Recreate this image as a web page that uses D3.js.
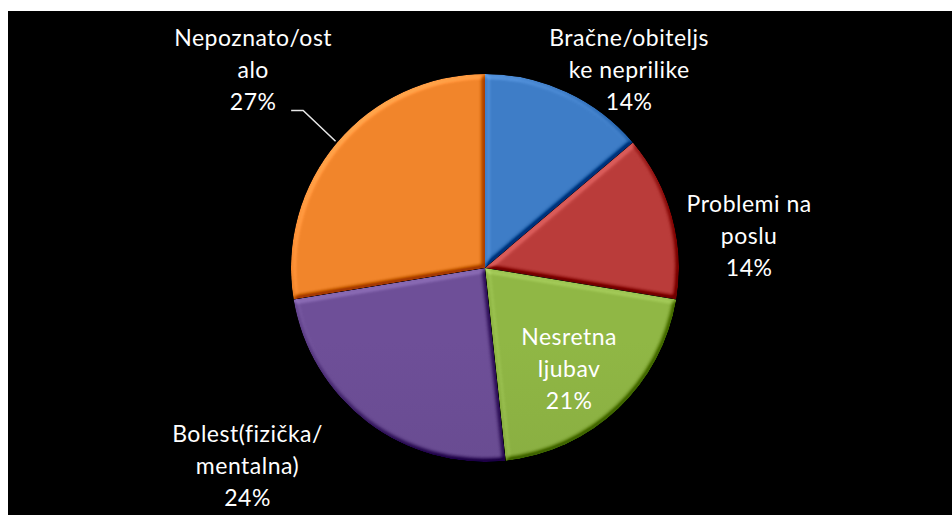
<!DOCTYPE html>
<html>
<head>
<meta charset="utf-8">
<script src="https://cdn.jsdelivr.net/npm/d3@7"></script>
<style>
body { margin: 0; background: #fff; }
svg { display: block; }
</style>
</head>
<body>
<div id="chart"></div>
<script>
// data
var categories    = ["Bračne/obiteljske neprilike", "Problemi na poslu", "Nesretna ljubav", "Bolest(fizička/mentalna)", "Nepoznato/ostalo"];
var labelLines    = [["Bračne/obiteljs", "ke neprilike"], ["Problemi na", "poslu"], ["Nesretna", "ljubav"], ["Bolest(fizička/", "mentalna)"], ["Nepoznato/ost", "alo"]];
var values        = [13.8, 13.8, 20.7, 24.1, 27.6];
var percentLabels = ["14%", "14%", "21%", "24%", "27%"];

var colors = ["#3a74b9", "#ad3836", "#86aa40", "#664a8e", "#e07c28"];

// label placement: angle (deg clockwise from 12 o'clock) and distance from the centre
var labelAngle  = [36.2, 83.2, 140.4, 230, 310.3];
var labelRadius = [244, 266, 132, 310, 304];
var hasLeader   = [false, false, false, false, true];

var width  = 952;
var height = 515;
var cx = 485, cy = 268, radius = 194;
var lineH = 32;

var svg = d3.select("#chart").append("svg").attr("width", width).attr("height", height);

svg.append("rect").attr("x", 8).attr("y", 11).attr("width", width - 8).attr("height", height - 11).attr("fill", "#000");

var defs = svg.append("defs");

var bevel = defs.append("filter").attr("id", "bevel")
    .attr("x", "-5%").attr("y", "-5%").attr("width", "110%").attr("height", "110%")
    .attr("color-interpolation-filters", "sRGB");
bevel.append("feGaussianBlur").attr("in", "SourceAlpha").attr("stdDeviation", 2.5).attr("result", "blur");
var lit = bevel.append("feDiffuseLighting").attr("in", "blur").attr("surfaceScale", 5)
    .attr("diffuseConstant", 1).attr("lighting-color", "#fff").attr("result", "lit");
lit.append("feDistantLight").attr("azimuth", 235).attr("elevation", 45);
bevel.append("feComposite").attr("in", "SourceGraphic").attr("in2", "lit").attr("operator", "arithmetic")
    .attr("k1", 0).attr("k2", 1).attr("k3", 0.42).attr("k4", -0.297).attr("result", "shaded");
bevel.append("feComposite").attr("in", "shaded").attr("in2", "SourceAlpha").attr("operator", "in");

colors.forEach(function(c, i) {
    var g = defs.append("linearGradient").attr("id", "grad" + i)
        .attr("gradientUnits", "userSpaceOnUse")
        .attr("x1", 0).attr("y1", cy - radius).attr("x2", 0).attr("y2", cy + radius);
    g.append("stop").attr("offset", "0%").attr("stop-color", d3.color(c).brighter(0.2));
    g.append("stop").attr("offset", "50%").attr("stop-color", c);
    g.append("stop").attr("offset", "100%").attr("stop-color", d3.color(c).darker(0.4));
});

var pie = d3.pie().sort(null).value(function(d) { return d; });
var arcs = pie(values);
var arc = d3.arc().innerRadius(0).outerRadius(radius);

var chartGroup = svg.append("g").attr("transform", "translate(" + cx + "," + cy + ")");

chartGroup.selectAll("path.slice").data(arcs).enter().append("path")
    .attr("class", "slice")
    .attr("d", arc)
    .attr("fill", function(d, i) { return "url(#grad" + i + ")"; })
    .attr("filter", "url(#bevel)");

// leader lines
arcs.forEach(function(d, i) {
    if (!hasLeader[i]) return;
    var mid = (d.startAngle + d.endAngle) / 2;
    var p0 = d3.pointRadial(mid, radius + 2);
    var lp = d3.pointRadial(labelAngle[i] * Math.PI / 180, labelRadius[i]);
    var yb = lp[1] + 7 + lineH;
    var pts = [p0, [lp[0] + 50, yb], [lp[0] + 38, yb]];
    chartGroup.append("path").attr("d", d3.line()(pts))
        .attr("fill", "none").attr("stroke", "#e8e8e8").attr("stroke-width", 1.5);
});

// labels
var labels = chartGroup.selectAll("text.lbl").data(arcs).enter().append("text")
    .attr("class", "lbl")
    .attr("text-anchor", "middle")
    .attr("fill", "#fff")
    .style("font-family", "Lato, 'Open Sans', sans-serif")
    .style("font-size", "23px")
    .style("letter-spacing", "0.5px")
    .attr("transform", function(d, i) {
        var p = d3.pointRadial(labelAngle[i] * Math.PI / 180, labelRadius[i]);
        return "translate(" + p[0] + "," + p[1] + ")";
    });

labels.each(function(d, i) {
    var t = d3.select(this);
    var lines = labelLines[i].concat([percentLabels[i]]);
    lines.forEach(function(s, k) {
        t.append("tspan").attr("x", 0).attr("y", 7 + (k - 1) * lineH).text(s);
    });
});
</script>
</body>
</html>
